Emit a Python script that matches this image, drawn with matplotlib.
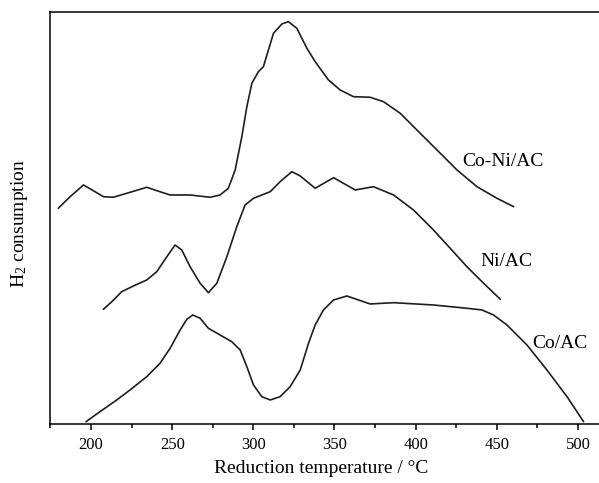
import matplotlib
matplotlib.use("Agg")
import matplotlib.pyplot as plt
from matplotlib.ticker import MultipleLocator

plt.rcParams['font.family'] = ['Liberation Serif', 'DejaVu Serif']
plt.rcParams['mathtext.fontset'] = 'custom'
plt.rcParams['mathtext.rm'] = 'Liberation Serif'
plt.rcParams['mathtext.it'] = 'Liberation Serif:italic'

# temperatures (C) and signal (arbitrary units)
coni_t = [179.8, 187.1, 195.3, 201.4, 207.6, 213.7, 222.0, 234.3, 240.5, 248.7, 261.0,
          273.4, 279.5, 284.6, 288.8, 292.9, 296.0, 299.1, 303.1, 306.2, 309.3, 312.4,
          317.6, 321.6, 326.8, 333.0, 338.1, 346.3, 353.5, 361.7, 372.0, 380.2, 390.5,
          402.8, 415.2, 425.5, 437.8, 450.1, 460.4]
coni_y = [215.7, 227.3, 239, 233.3, 227.3, 226.7, 230.7, 236.7, 233.3, 229, 229,
          226.7, 229, 235.7, 254, 287.3, 317.3, 340.7, 352.3, 357.3, 374, 390.7,
          400, 402.3, 395.7, 375.7, 362.3, 344, 334, 327.3, 326.7, 322.3, 310.7,
          290.7, 270.7, 254, 237.3, 225.7, 217.3]

ni_t = [207.6, 212.8, 218.9, 226.1, 234.3, 240.5, 246.7, 251.8, 255.9, 261.0, 267.2,
        272.3, 277.5, 283.7, 289.8, 294.9, 300.1, 310.4, 316.5, 323.7, 328.9, 338.1,
        349.4, 355.5, 362.8, 374.0, 386.4, 398.7, 411.0, 421.3, 431.6, 441.9, 452.2]
ni_y = [114.7, 122.3, 132.3, 138, 144, 152.3, 167.3, 179, 174, 157.3, 140.7,
        131.3, 140.7, 167.3, 197.3, 219, 225.7, 232.3, 242.3, 252.3, 248, 235.7,
        246.3, 240.7, 234, 237.3, 229, 214, 194, 175.7, 157.3, 140.7, 124.7]

co_t = [196.9, 205.5, 215.8, 224.0, 234.3, 242.5, 248.7, 254.9, 259.0, 262.7, 267.2,
        272.3, 279.5, 286.7, 291.9, 296.0, 300.1, 305.2, 310.4, 316.5, 322.7, 328.9,
        334.0, 338.1, 343.2, 349.4, 357.6, 364.8, 372.0, 386.4, 411.0, 431.6, 440.9,
        448.0, 456.3, 468.6, 480.9, 493.3, 503.5]
co_y = [2.3, 12.3, 24, 34, 47.3, 60.7, 75.7, 94, 104.7, 109, 105.7,
        95.7, 89, 82.3, 74, 57.3, 39, 27.3, 24, 27.3, 37.3, 54,
        80.7, 99, 114, 124, 128, 124, 120, 121.3, 119, 115.7, 114,
        109, 99, 79, 54, 27.3, 2.3]

labels = ['Co-Ni/AC', 'Ni/AC', 'Co/AC']
label_t = [428.9, 439.8, 472.1]
label_y = [262.3, 162.3, 80.7]

fig = plt.figure(figsize=(5.99, 4.83), dpi=100)
ax = fig.add_axes([0.0843, 0.1222, 0.9157, 0.853])

for t, y in [(coni_t, coni_y), (ni_t, ni_y), (co_t, co_y)]:
    ax.plot(t, y, color='#1e1e1e', lw=1.2, solid_joinstyle='round', solid_capstyle='round')

for s, t, y in zip(labels, label_t, label_y):
    ax.text(t, y, s, fontsize=14, ha='left', va='center')

ax.set_xlim(175, 513)
ax.set_ylim(0, 412)
ax.xaxis.set_major_locator(MultipleLocator(50))
ax.xaxis.set_minor_locator(MultipleLocator(25))
ax.set_yticks([])
ax.spines['right'].set_visible(False)
for sp in ['left', 'bottom', 'top']:
    ax.spines[sp].set_linewidth(1.1)
ax.tick_params(axis='x', which='major', direction='out', length=4.5, width=1.1,
               labelsize=12, pad=5)
ax.tick_params(axis='x', which='minor', direction='out', length=3, width=1.1)

ax.set_xlabel('Reduction temperature / °C', fontsize=14)
ax.set_ylabel(r'H$_\mathrm{2}$ consumption', fontsize=14)
ax.xaxis.set_label_coords(0.493, -0.087)
ax.yaxis.set_label_coords(-0.037, 0.487)

fig.savefig('out.png', dpi=100)
